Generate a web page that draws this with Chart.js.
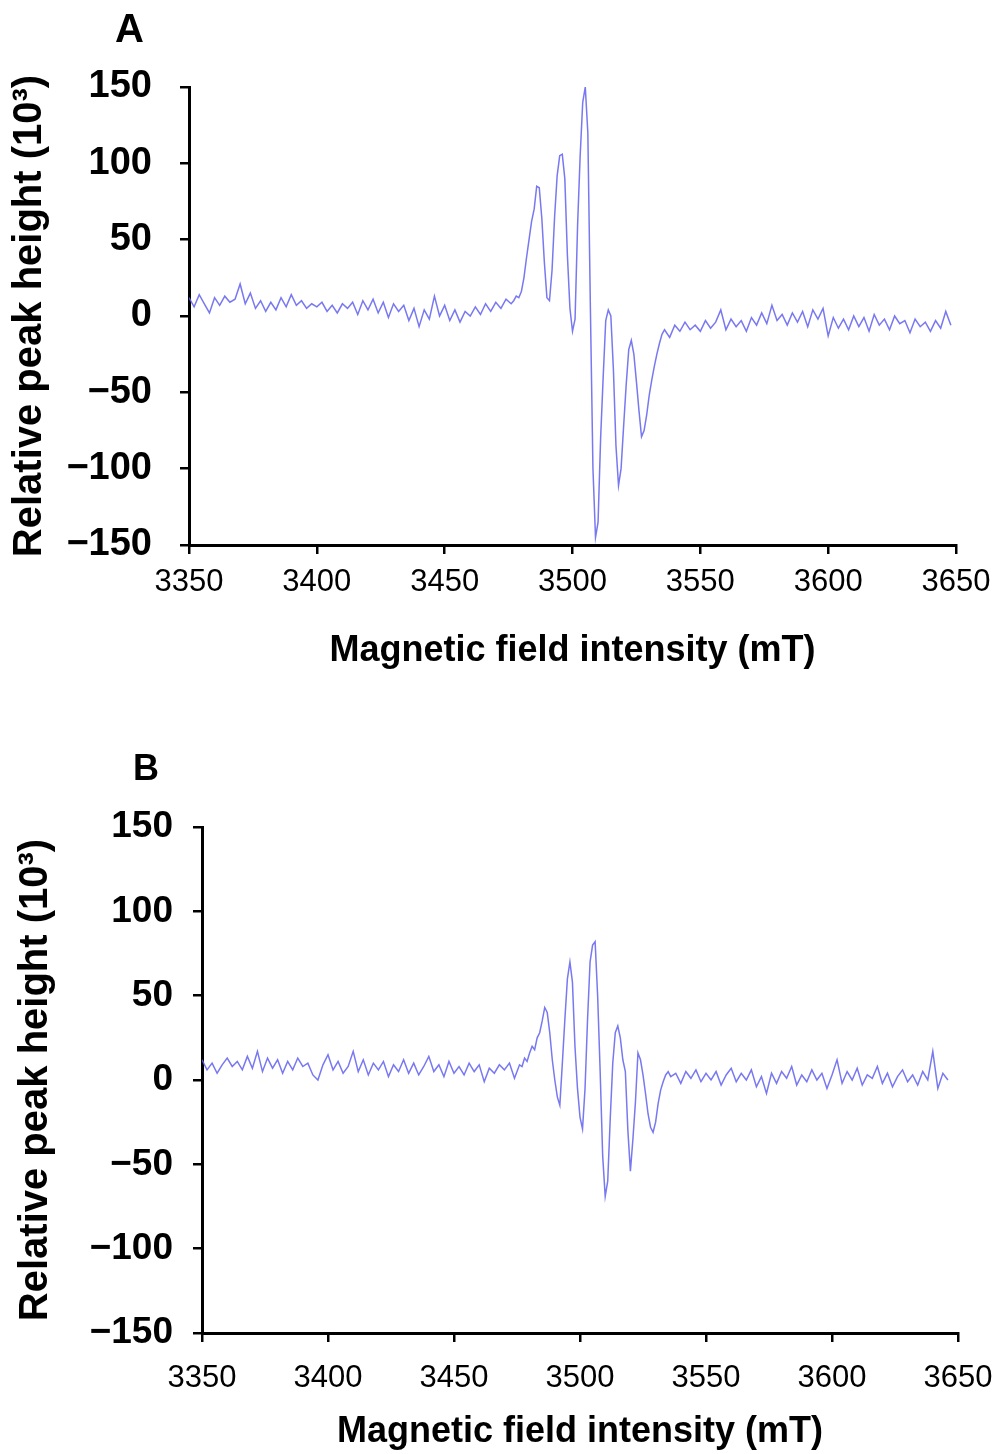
<!DOCTYPE html>
<html>
<head>
<meta charset="utf-8">
<script src="https://cdn.jsdelivr.net/npm/chart.js@4.4.0/dist/chart.umd.min.js"></script>
<style>
  html, body { margin: 0; padding: 0; background: #fff; }
  body { width: 996px; height: 1454px; position: relative; overflow: hidden; font-family: 'Liberation Sans', Arial, sans-serif; }
  .panel { position: absolute; left: 0; width: 996px; height: 727px; }
  .tag { position: absolute; font-weight: bold; color: #000; }
</style>
</head>
<body>
<div class="panel" style="top:0"><canvas id="chartA" width="996" height="727"></canvas></div>
<div class="panel" style="top:727px"><canvas id="chartB" width="996" height="727"></canvas></div>
<div class="tag" style="left:115px; top:8px; font-size:40px; line-height:40px">A</div>
<div class="tag" style="left:133px; top:750px; font-size:36px; line-height:36px">B</div>
<script>
// magnetic field (mT), shared by both spectra
const field = [
    3350, 3352, 3354, 3356, 3358, 3360, 3362, 3364, 3366, 3368,
    3370, 3372, 3374, 3376, 3378, 3380, 3382, 3384, 3386, 3388,
    3390, 3392, 3394, 3396, 3398, 3400, 3402, 3404, 3406, 3408,
    3410, 3412, 3414, 3416, 3418, 3420, 3422, 3424, 3426, 3428,
    3430, 3432, 3434, 3436, 3438, 3440, 3442, 3444, 3446, 3448,
    3450, 3452, 3454, 3456, 3458, 3460, 3462, 3464, 3466, 3468,
    3470, 3472, 3474, 3476,
    3477, 3478, 3479, 3480, 3481, 3482, 3483, 3484, 3485, 3486,
    3487, 3488, 3489, 3490, 3491, 3492, 3493, 3494, 3495, 3496,
    3497, 3498, 3499, 3500, 3501, 3502, 3503, 3504, 3505, 3506,
    3507, 3508, 3509, 3510, 3511, 3512, 3513, 3514, 3515, 3516,
    3517, 3518, 3519, 3520, 3521, 3522, 3523, 3524, 3525, 3526,
    3527, 3528, 3529, 3530, 3531, 3532, 3533, 3534, 3535, 3536,
    3538, 3540, 3542, 3544, 3546, 3548, 3550, 3552, 3554, 3556,
    3558, 3560, 3562, 3564, 3566, 3568, 3570, 3572, 3574, 3576,
    3578, 3580, 3582, 3584, 3586, 3588, 3590, 3592, 3594, 3596,
    3598, 3600, 3602, 3604, 3606, 3608, 3610, 3612, 3614, 3616,
    3618, 3620, 3622, 3624, 3626, 3628, 3630, 3632, 3634, 3636,
    3638, 3640, 3642, 3644, 3646, 3648
];

// panel A, relative peak height (10^3)
const heightA = [
    12, 6, 14, 8, 2, 12, 7, 13, 9, 11,
    21, 8, 15, 5, 10, 3, 9, 4, 12, 6,
    14, 7, 10, 5, 8, 6, 9, 3, 7, 2,
    8, 5, 9, 1, 10, 4, 11, 2, 9, -1,
    8, 3, 7, -3, 5, -7, 4, -2, 13, 0,
    7, -3, 4, -4, 3, 0, 6, 1, 8, 3,
    9, 5, 11, 8,
    10, 13, 12, 16, 25, 38, 50, 62, 70, 85,
    84, 64, 35, 12, 10, 30, 65, 92, 105, 106,
    90, 40, 5, -10, -2, 60, 105, 140, 150, 120,
    5, -100, -145, -135, -80, -40, -3, 4, 0, -35,
    -85, -111, -100, -72, -45, -22, -16, -25, -43, -62,
    -79, -75, -65, -52, -42, -33, -25, -18, -12, -9,
    -14, -6, -10, -4, -9, -6, -10, -3, -8, -4,
    4, -9, -2, -7, -3, -10, -1, -6, 2, -5,
    7, -3, 1, -6, 2, -4, 3, -7, 4, -2,
    5, -13, -1, -8, -2, -9, 0, -7, -1, -10,
    1, -6, -2, -9, 0, -5, -3, -11, -2, -7,
    -4, -10, -3, -8, 3, -6
];

// panel B, relative peak height (10^3)
const heightB = [
    12, 6, 10, 4, 9, 13, 8, 11, 6, 14,
    7, 17, 5, 13, 7, 12, 4, 11, 6, 13,
    8, 10, 3, 0, 9, 15, 6, 11, 4, 8,
    17, 5, 12, 3, 10, 6, 11, 2, 9, 5,
    12, 4, 10, 3, 8, 14, 5, 9, 2, 11,
    4, 8, 3, 10, 5, 9, -1, 7, 4, 9,
    6, 10, 1, 9,
    8, 13, 11, 16, 20, 18, 25, 28, 35, 43,
    40, 28, 12, 0, -10, -15, 10, 36, 60, 70,
    58, 20, -5, -22, -29, -5, 36, 70, 80, 82,
    50, 5, -45, -69, -60, -23, 10, 28, 32, 25,
    12, 5, -30, -54, -35, -13, 16, 12, 3, -8,
    -20, -28, -31, -25, -14, -6, -1, 3, 5, 2,
    4, -2, 5, 1, 6, -1, 4, 0, 5, -3,
    3, 7, -1, 4, 0, 6, -4, 2, -8, 4,
    -2, 5, 1, 8, -3, 3, -1, 6, 0, 4,
    -5, 3, 12, -2, 5, 0, 7, -3, 3, 1,
    8, -2, 4, -4, 2, 6, -1, 3, -3, 5,
    0, 17, -5, 4, 0
];

const fieldMin = 3350;
const fieldMax = 3650;
const fieldStep = 50;
const heightMin = -150;
const heightMax = 150;
const heightStep = 50;
const xTitle = 'Magnetic field intensity (mT)';
const yTitle = 'Relative peak height (10\u00b3)';

const fontFamily = "'Liberation Sans', Arial, sans-serif";
const lineColor = 'rgba(96, 96, 238, 0.85)';

function toPoints(ys) {
    return ys.map((y, i) => ({ x: field[i], y: y }));
}

function formatHeightTick(v) {
    if(v < 0) return '\u2212' + Math.abs(v);
    return String(v);
}

function drawSpectrum(id, ys, box) {
    const ctx = document.getElementById(id).getContext('2d');

    return new Chart(ctx, {
        type: 'line',
        data: {
            datasets: [{
                data: toPoints(ys),
                borderColor: lineColor,
                borderWidth: 1.5,
                pointRadius: 0,
                tension: 0,
                fill: false
            }]
        },
        options: {
            responsive: false,
            animation: false,
            layout: {
                padding: { left: 0, right: box.right, top: box.top, bottom: 0 }
            },
            plugins: {
                legend: { display: false },
                tooltip: { enabled: false }
            },
            scales: {
                x: {
                    type: 'linear',
                    min: fieldMin,
                    max: fieldMax,
                    afterFit: (scale) => {
                        scale.height = box.xHeight;
                        scale.paddingLeft = 0;
                        scale.paddingRight = 0;
                    },
                    border: { display: true, color: '#000', width: 3 },
                    grid: { display: true, drawOnChartArea: false, drawTicks: true, tickLength: 9, color: '#000', lineWidth: 2.5 },
                    ticks: {
                        stepSize: fieldStep,
                        autoSkip: false,
                        maxRotation: 0,
                        padding: box.xTickPad,
                        color: '#000',
                        font: { family: fontFamily, size: 31 },
                        callback: (v) => String(v)
                    },
                    title: {
                        display: true,
                        text: xTitle,
                        color: '#000',
                        font: { family: fontFamily, size: 36, weight: 'bold' },
                        padding: { top: 0, bottom: box.xTitlePad }
                    }
                },
                y: {
                    type: 'linear',
                    min: heightMin,
                    max: heightMax,
                    afterFit: (scale) => {
                        scale.width = box.yWidth;
                        scale.paddingTop = 0;
                        scale.paddingBottom = 0;
                    },
                    border: { display: true, color: '#000', width: 3 },
                    grid: { display: true, drawOnChartArea: false, drawTicks: true, tickLength: 9, color: '#000', lineWidth: 2.5 },
                    ticks: {
                        stepSize: heightStep,
                        autoSkip: false,
                        padding: box.yTickPad,
                        color: '#000',
                        font: { family: fontFamily, size: box.yTickSize, weight: 'bold' },
                        callback: formatHeightTick
                    },
                    title: {
                        display: true,
                        text: yTitle,
                        color: '#000',
                        font: { family: fontFamily, size: 40, weight: 'bold' },
                        padding: { top: box.yTitlePad, bottom: 0 }
                    }
                }
            }
        }
    });
}

drawSpectrum('chartA', heightA, {
    top: 87, right: 40, yWidth: 189, xHeight: 182,
    xTickPad: 10, xTitlePad: 54, yTickPad: 28, yTickSize: 38, yTitlePad: 6
});

drawSpectrum('chartB', heightB, {
    top: 100, right: 38, yWidth: 202, xHeight: 121,
    xTickPad: 18, xTitlePad: 0, yTickPad: 20, yTickSize: 37, yTitlePad: 12
});
</script>
</body>
</html>
